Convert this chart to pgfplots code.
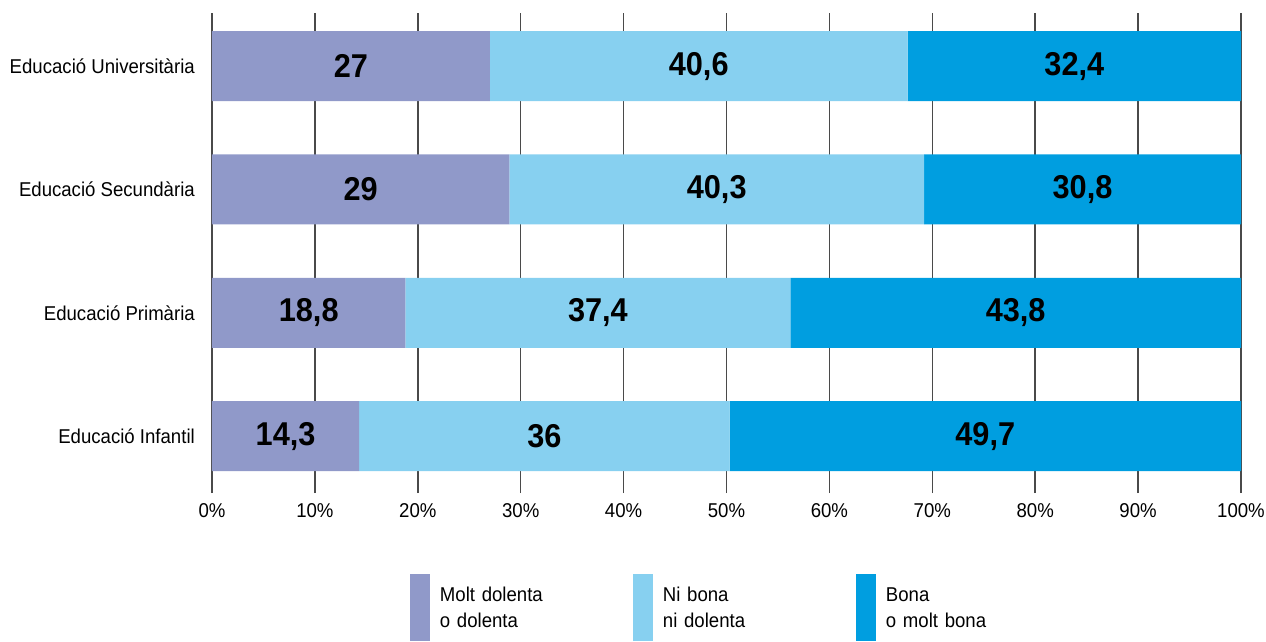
\documentclass[border=0pt]{standalone}
\usepackage{pgfplots}
\pgfplotsset{compat=1.18}
\usepackage{pgfplotstable}
\usepackage{fontspec}
\setmainfont{Liberation Sans}[FakeStretch=0.93]
\definecolor{cA}{HTML}{9099C9}
\definecolor{cB}{HTML}{87D0F0}
\definecolor{cC}{HTML}{009EE0}
\definecolor{gridc}{HTML}{4A4A4A}
\pgfplotstableread{
y a b c la lb lc
0 14.3 36.0 49.7 14,3 36 49,7
1 18.8 37.4 43.8 18,8 37,4 43,8
2 28.9 40.3 30.8 29 40,3 30,8
3 27.0 40.6 32.4 27 40,6 32,4
}\data
\begin{document}
\begin{tikzpicture}
\begin{axis}[
  at={(0pt,0pt)}, anchor=south west,
  scale only axis, width=1029pt, height=480pt,
  xmin=0, xmax=100, ymin=-0.46, ymax=3.43,
  xbar stacked, bar width=70pt,
  xtick={0,10,...,100},
  xticklabel={\pgfmathprintnumber{\tick}\%},
  ytick={0,1,2,3},
  yticklabels={Educació Infantil,Educació Primària,Educació Secundària,Educació Universitària},
  /pgf/number format/assume math mode=true,
  tick label style={font=\fontsize{20}{22}\selectfont},
  xticklabel style={inner sep=0pt, anchor=north, yshift=-10pt},
  yticklabel style={inner sep=0pt, anchor=east, xshift=-17pt},
  xmajorgrids, grid style={line width=1.5pt, color=gridc},
  major tick length=0pt,
  axis line style={draw=none},
  point meta=explicit symbolic,
  nodes near coords,
  every node near coord/.append style={font=\fontsize{33}{33}\selectfont\bfseries, anchor=center, text=black},
  legend columns=3,
  legend style={at={(0.1924,-0.16875)}, anchor=north west, draw=none, fill=none,
    inner sep=0pt, outer sep=0pt, column sep=0pt, row sep=0pt,
    font=\fontsize{20}{26}\selectfont,
    cells={anchor=west, align=left, text width=191pt}},
  legend image code/.code={\fill[#1] (0pt,-46pt) rectangle (20pt,21pt); \path (28pt,0pt);},
]
\addplot+[draw=none, fill=cA] table[x=a, y=y, meta=la] {\data};
\addlegendentry{Molt dolenta\\o dolenta}
\addplot+[draw=none, fill=cB] table[x=b, y=y, meta=lb] {\data};
\addlegendentry{Ni bona\\ni dolenta}
\addplot+[draw=none, fill=cC] table[x=c, y=y, meta=lc] {\data};
\addlegendentry{Bona\\o molt bona}
\end{axis}
\pgfresetboundingbox
\path[use as bounding box] (-212pt,-148pt) rectangle (1054pt,493pt);
\end{tikzpicture}
\end{document}
